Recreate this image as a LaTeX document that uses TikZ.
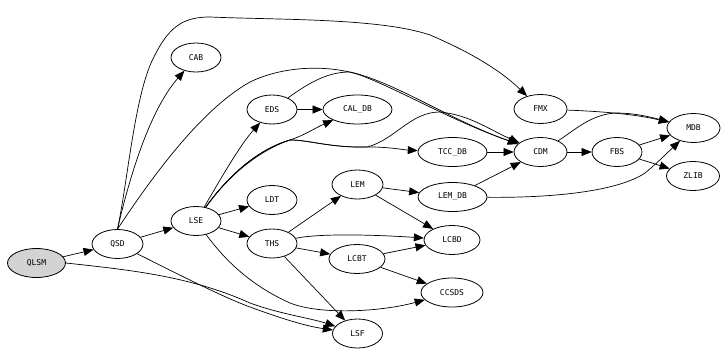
\documentclass[tikz,border=0pt]{standalone}
\usepackage{fontspec}
\newfontfamily\lblfont{DejaVu Sans Mono}
\usetikzlibrary{shapes.geometric,arrows.meta}
\begin{document}
\begin{tikzpicture}[x=1pt,y=-1pt,
  nd/.style={ellipse, draw, line width=0.8pt, inner sep=0pt, minimum height=29pt, minimum width=50pt, font=\lblfont\fontsize{8}{9}\selectfont},
  e/.style={draw, line width=0.7pt, -{Triangle[length=10pt,width=8pt]}}]
\useasboundingbox (0,0) rectangle (725,353);
% nodes
\node[nd, fill={rgb,255:red,211;green,211;blue,211}, minimum width=58pt] (qlsm) at (36.5,263) {QLSM};
\node[nd, minimum width=51pt] (qsd) at (117.5,244) {QSD};
\node[nd] (lse) at (196,221) {LSE};
\node[nd] (cab) at (196,57.5) {CAB};
\node[nd] (eds) at (272,109.5) {EDS};
\node[nd, minimum width=69pt] (caldb) at (357.5,109.5) {CAL\_DB};
\node[nd] (ldt) at (272,200) {LDT};
\node[nd] (ths) at (272,243.5) {THS};
\node[nd, minimum width=51pt] (lem) at (357.5,184.5) {LEM};
\node[nd, minimum width=69pt] (lemdb) at (452.5,197) {LEM\_DB};
\node[nd, minimum width=56pt] (lcbd) at (452,240) {LCBD};
\node[nd, minimum width=56pt] (lcbt) at (357,259) {LCBT};
\node[nd, minimum width=62pt] (ccsds) at (452,292.5) {CCSDS};
\node[nd] (lsf) at (357.5,333.5) {LSF};
\node[nd, minimum width=69pt] (tccdb) at (452.5,152) {TCC\_DB};
\node[nd, minimum width=53pt] (cdm) at (540.5,152) {CDM};
\node[nd, minimum width=53pt] (fmx) at (540.5,109) {FMX};
\node[nd] (fbs) at (617,152) {FBS};
\node[nd, minimum width=53pt] (mdb) at (693.5,128) {MDB};
\node[nd, minimum width=53pt] (zlib) at (693,176) {ZLIB};
% edges
\draw[e] (qlsm) -- (qsd);
\draw[e] (qlsm.east) .. controls (130,270) and (190,276) .. (250,303) .. controls (280,314) and (310,318) .. (lsf);
\draw[e] (qsd) .. controls (170,270) and (220,296) .. (250,307) .. controls (280,318) and (305,326) .. (lsf);
\draw[e] (qsd) -- (lse);
\draw[e] (qsd.north) .. controls (130,175) and (150,110) .. (cab);
\draw[e] (qsd.north) .. controls (128,180) and (135,90) .. (155,55) .. controls (170,25) and (185,17) .. (210,17) .. controls (280,20) and (380,18) .. (430,35) .. controls (470,52) and (500,70) .. (fmx);
\draw[e] (qsd.north) .. controls (150,180) and (200,110) .. (250,82) .. controls (285,65) and (330,65) .. (360,75) .. controls (400,90) and (450,120) .. (cdm);
\draw[e] (eds) .. controls (310,82) and (328,72) .. (350,72) .. controls (395,82) and (450,120) .. (cdm);
\draw[e] (eds) -- (caldb);
\draw[e] (lse) .. controls (220,180) and (240,145) .. (eds);
\draw[e] (lse) .. controls (225,180) and (255,152) .. (290,140) .. controls (305,135) and (315,128) .. (caldb);
\draw[e] (lse) .. controls (225,180) and (255,150) .. (290,140) .. controls (310,140) and (330,148) .. (370,147) .. controls (390,147) and (405,150) .. (tccdb);
\draw[e] (lse) .. controls (225,180) and (255,150) .. (290,140) .. controls (310,140) and (330,148) .. (367,147) .. controls (395,140) and (410,112) .. (440,112) .. controls (470,115) and (490,130) .. (cdm);
\draw[e] (lse) -- (ldt);
\draw[e] (lse) -- (ths);
\draw[e] (lse) .. controls (225,260) and (250,285) .. (290,303) .. controls (320,315) and (380,312) .. (ccsds);
\draw[e] (ths) -- (lem);
\draw[e] (ths) .. controls (320,233) and (380,235) .. (lcbd);
\draw[e] (ths) -- (lcbt);
\draw[e] (ths) -- (lsf);
\draw[e] (lem) -- (lemdb);
\draw[e] (lem) -- (lcbd);
\draw[e] (lcbt) -- (lcbd);
\draw[e] (lcbt) -- (ccsds);
\draw[e] (lemdb) -- (cdm);
\draw[e] (lemdb) .. controls (560,198) and (620,190) .. (645,173) .. controls (655,165) and (665,155) .. (mdb);
\draw[e] (tccdb) -- (cdm);
\draw[e] (cdm) -- (fbs);
\draw[e] (cdm) .. controls (575,130) and (590,115) .. (615,113) .. controls (635,113) and (650,117) .. (mdb);
\draw[e] (fmx) .. controls (590,111) and (630,113) .. (mdb);
\draw[e] (fbs) -- (mdb);
\draw[e] (fbs) -- (zlib);
\end{tikzpicture}
\end{document}
